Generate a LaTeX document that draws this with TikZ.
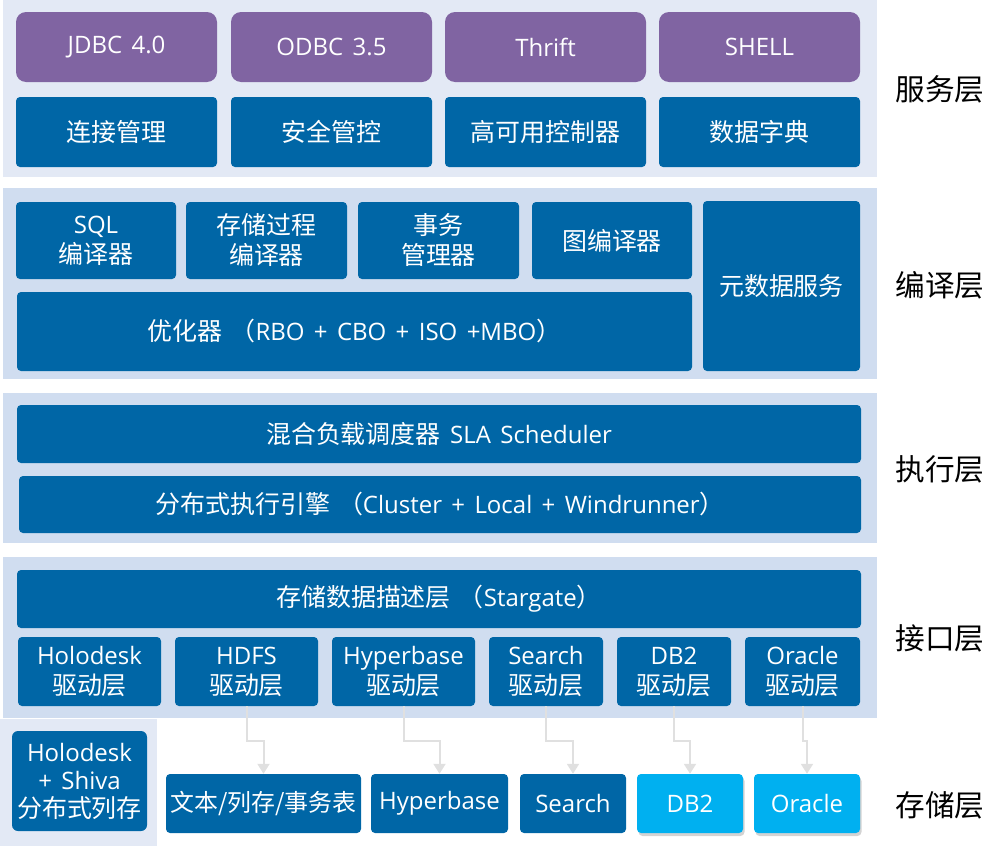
\documentclass[tikz,border=0pt]{standalone}
\usepackage{fontspec}
\setmainfont{Open Sans}[WordSpace=1.5]
\newfontfamily\cjk[Scale=1.04]{Noto Sans CJK SC}
\usetikzlibrary{arrows.meta,shadows}
\definecolor{bandA}{HTML}{E3E9F5}
\definecolor{bandB}{HTML}{D0DDF0}
\definecolor{boxblue}{HTML}{0066A6}
\definecolor{boxpurple}{HTML}{8064A2}
\definecolor{boxlight}{HTML}{00B0F0}
\definecolor{arrgrey}{HTML}{E0E0E0}
\begin{document}
\begin{tikzpicture}[x=1pt,y=-1pt,
  sz/.style 2 args={minimum width=#1pt, minimum height=#2pt},
  blk/.style={fill=boxblue, rounded corners=4pt, text=white, align=center,
    inner sep=0pt, font=\fontsize{24}{30}\selectfont},
  pblk/.style={blk, fill=boxpurple, rounded corners=10pt},
  lblk/.style={blk, fill=boxlight, drop shadow={opacity=0.35, shadow xshift=1.5pt, shadow yshift=-3pt}},
  layer/.style={text=black, font=\cjk\fontsize{28.5}{30}\selectfont, inner sep=0pt},
  arr/.style={draw=arrgrey, line width=2pt, -{Triangle[width=12pt,length=10pt]}}]
\useasboundingbox (0,0) rectangle (983,846);
% bands
\fill[bandA] (3,0) rectangle (877,177);
\fill[bandB] (3,188) rectangle (877,379);
\fill[bandB] (3,393) rectangle (877,543);
\fill[bandB] (3,557) rectangle (877,718);
\fill[bandA] (0,719) rectangle (157,846);
% service layer
\node[pblk, sz={201}{70}] (jdbc) at (116.5,47) {JDBC 4.0};
\node[pblk, sz={201}{70}] (odbc) at (331.5,47) {ODBC 3.5};
\node[pblk, sz={201}{70}] (thrift) at (545.5,47) {Thrift};
\node[pblk, sz={201}{70}] (shell) at (759.5,47) {SHELL};
\node[blk, sz={201}{70}] (conn) at (116.5,132) {\cjk 连接管理};
\node[blk, sz={201}{70}] (sec) at (331.5,132) {\cjk 安全管控};
\node[blk, sz={201}{70}] (ha) at (545.5,132) {\cjk 高可用控制器};
\node[blk, sz={201}{70}] (dict) at (759.5,132) {\cjk 数据字典};
% compile layer
\node[blk, sz={160}{77}] (sqlc) at (96,240.5) {SQL\\{\cjk 编译器}};
\node[blk, sz={161}{77}] (procc) at (266.5,240.5) {{\cjk 存储过程}\\{\cjk 编译器}};
\node[blk, sz={161}{77}] (txm) at (438.5,240.5) {{\cjk 事务}\\{\cjk 管理器}};
\node[blk, sz={160}{77}] (graphc) at (612,240.5) {\cjk 图编译器};
\node[blk, sz={157}{170}] (meta) at (781.5,286) {\cjk 元数据服务};
\node[blk, sz={675}{79}] (opt) at (354.5,331.5) {{\cjk 优化器}\hspace{8pt}{\cjk （}RBO + CBO + ISO +MBO{\cjk ）}};
% execution layer
\node[blk, sz={844}{58}] (sched) at (439,434) {{\cjk 混合负载调度器} SLA Scheduler};
\node[blk, sz={842}{57}] (engine) at (440,504.5) {{\cjk 分布式执行引擎}\hspace{8pt}{\cjk （}Cluster + Local + Windrunner{\cjk ）}};
% interface layer
\node[blk, sz={844}{58}] (sdesc) at (439,599) {{\cjk 存储数据描述层}\hspace{8pt}{\cjk （}Stargate{\cjk ）}};
\node[blk, sz={143}{69}] (holod) at (89.5,671.5) {Holodesk\\{\cjk 驱动层}};
\node[blk, sz={143}{69}] (hdfsd) at (246.5,671.5) {HDFS\\{\cjk 驱动层}};
\node[blk, sz={143}{69}] (hyperd) at (403.5,671.5) {Hyperbase\\{\cjk 驱动层}};
\node[blk, sz={114}{69}] (searchd) at (546,671.5) {Search\\{\cjk 驱动层}};
\node[blk, sz={114}{69}] (db2d) at (674,671.5) {DB2\\{\cjk 驱动层}};
\node[blk, sz={115}{69}] (oracled) at (802.5,671.5) {Oracle\\{\cjk 驱动层}};
% storage layer
\node[blk, sz={135}{100}, rounded corners=6pt, font=\fontsize{24}{28}\selectfont] (shiva) at (79.5,781) {Holodesk\\+ Shiva\\{\cjk 分布式列存}};
\node[blk, sz={195}{59}] (tbl) at (263.5,803.5) {\cjk\fontsize{23}{28}\selectfont 文本/列存/事务表};
\node[blk, sz={137}{59}] (hypers) at (439.5,803.5) {Hyperbase};
\node[blk, sz={106}{59}] (searchs) at (573,803.5) {Search};
\node[lblk, sz={106}{59}] (db2s) at (690,803.5) {DB2};
\node[lblk, sz={106}{59}] (oracles) at (807,803.5) {Oracle};
% connectors
\draw[arr] (hdfsd.south) -- ++(0,35) -| (tbl.north);
\draw[arr] (hyperd.south) -- ++(0,35) -| (hypers.north);
\draw[arr] (searchd.south) -- ++(0,35) -| (searchs.north);
\draw[arr] (db2d.south) -- ++(0,35) -| (db2s.north);
\draw[arr] (oracled.south) -- ++(0,35) -| (oracles.north);
% layer labels
\node[layer] (l1) at (940,89) {服务层};
\node[layer] (l2) at (940,285) {编译层};
\node[layer] (l3) at (940,469) {执行层};
\node[layer] (l4) at (940,638) {接口层};
\node[layer] (l5) at (940,805) {存储层};
\end{tikzpicture}
\end{document}
